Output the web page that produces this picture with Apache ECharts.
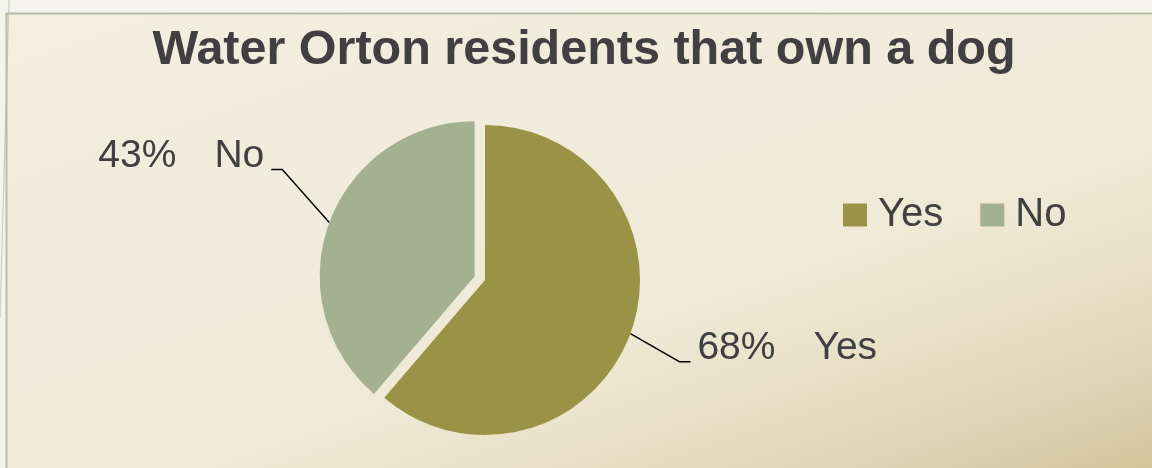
<!DOCTYPE html>
<html>
<head>
<meta charset="utf-8">
<title>Water Orton residents that own a dog</title>
<script src="https://cdn.jsdelivr.net/npm/echarts@6/dist/echarts.min.js"></script>
<style>
  html, body { margin: 0; padding: 0; background: #f5f4ec; }
  #chart { width: 1152px; height: 468px; }
</style>
</head>
<body>
<div id="chart"></div>
<script>
// Survey answers
const categories = ['Yes', 'No'];
const percentValues = [68, 43];
const sliceColors = ['#9a9346', '#a3b092'];
const titleText = 'Water Orton residents that own a dog';

// How far each slice is pulled out of the pie, in px
const explodeOffsets = [0, 11];
// Leader line shape per slice: [elbow dx, elbow dy, horizontal run] from the slice edge
const leaderShapes = [[49, 28, 11], [-47, -53, -11]];

const FONT = "'Liberation Sans', Arial, sans-serif";
const TEXT_COLOR = '#404040';
const PIE_CENTER = [485, 280];
const PIE_RADIUS = 155;
const START_ANGLE = 90;

const chart = echarts.init(document.getElementById('chart'), null, { renderer: 'canvas' });

const total = percentValues.reduce((a, b) => a + b, 0);

// Screen offset of slice i along its middle angle (clockwise from 12 o'clock)
function sliceShift(i) {
  const before = percentValues.slice(0, i).reduce((a, b) => a + b, 0);
  const midDeg = START_ANGLE - 360 * (before + percentValues[i] / 2) / total;
  const rad = midDeg * Math.PI / 180;
  return [explodeOffsets[i] * Math.cos(rad), -explodeOffsets[i] * Math.sin(rad)];
}

function leaderLayout(params) {
  const pts = params.labelLinePoints;
  if (!pts) return {};
  const shape = leaderShapes[params.dataIndex];
  const edge = pts[0];
  const elbow = [edge[0] + shape[0], edge[1] + shape[1]];
  const end = [elbow[0] + shape[2], elbow[1]];
  const right = shape[2] > 0;
  return {
    x: end[0] + (right ? 7 : -7),
    y: end[1] - 13,
    align: right ? 'left' : 'right',
    verticalAlign: 'middle',
    labelLinePoints: [edge, elbow, end]
  };
}

// One pie per slice, so a slice can be pulled out on its own
const pieSeries = categories.map((cat, s) => {
  const shift = sliceShift(s);
  return {
    type: 'pie',
    name: cat,
    silent: true,
    center: [PIE_CENTER[0] + shift[0], PIE_CENTER[1] + shift[1]],
    radius: PIE_RADIUS,
    startAngle: START_ANGLE,
    clockwise: true,
    avoidLabelOverlap: false,
    emphasis: { disabled: true },
    data: categories.map((name, i) => ({
      name: name,
      value: percentValues[i],
      itemStyle: { color: i === s ? sliceColors[i] : 'rgba(0,0,0,0)' },
      label: { show: i === s },
      labelLine: { show: i === s }
    })),
    label: {
      position: 'outside',
      formatter: '{p|{c}%}{n|{b}}',
      rich: {
        p: { fontFamily: FONT, fontSize: 39, color: TEXT_COLOR, padding: [0, 38, 0, 0] },
        n: { fontFamily: FONT, fontSize: 39, color: TEXT_COLOR }
      }
    },
    labelLine: {
      length: 30,
      length2: 10,
      lineStyle: { color: '#000000', width: 1.4 }
    },
    labelLayout: leaderLayout
  };
});

const option = {
  animation: false,
  graphic: [
    { type: 'rect', silent: true, z: -10,
      shape: { x: 0, y: 0, width: 1152, height: 468 },
      style: { fill: '#f5f4ec' } },
    { type: 'rect', silent: true, z: -9,
      shape: { x: 7, y: 14, width: 1145, height: 454 },
      style: { fill: {
        type: 'linear', global: true, x: 7, y: 13, x2: 259, y2: 767,
        colorStops: [
          { offset: 0, color: '#f2efe2' },
          { offset: 0.62, color: '#efe9d6' },
          { offset: 0.76, color: '#e8dfc6' },
          { offset: 0.87, color: '#e0d5b6' },
          { offset: 1, color: '#d3c49c' }
        ]
      } } },
    { type: 'line', silent: true, z: -8,
      shape: { x1: 9, y1: 0, x2: 0, y2: 318 },
      style: { stroke: '#c6cfb8', lineWidth: 1.2 } },
    { type: 'polyline', silent: true, z: -8,
      shape: { points: [[6.5, 468], [6.5, 13.5], [1152, 13.5]] },
      style: { stroke: '#b3bda7', lineWidth: 2, fill: null } }
  ],
  title: {
    text: titleText,
    left: 579,
    top: 21,
    textAlign: 'center',
    textStyle: {
      fontFamily: FONT,
      fontWeight: 'bold',
      fontSize: 48.5,
      color: TEXT_COLOR
    }
  },
  legend: {
    data: categories.map((name, i) => ({ name: name, itemStyle: { color: sliceColors[i] } })),
    left: 843,
    top: 195,
    padding: 0,
    icon: 'rect',
    itemWidth: 24,
    itemHeight: 23,
    itemGap: 37,
    selectedMode: false,
    textStyle: {
      fontFamily: FONT,
      fontSize: 40,
      color: TEXT_COLOR,
      padding: [0, 0, 0, 6]
    }
  },
  series: pieSeries
};

chart.setOption(option);
</script>
</body>
</html>
